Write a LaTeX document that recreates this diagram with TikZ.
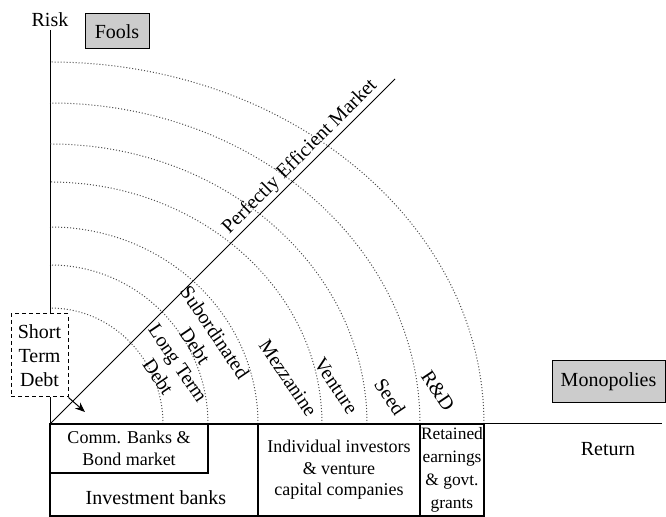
\documentclass[tikz,border=0pt]{standalone}
\usepackage{fontspec}
\setmainfont{Liberation Serif}
\usetikzlibrary{arrows.meta}

\begin{document}
\begin{tikzpicture}[
    x=0.5pt, y=0.5pt,
    every node/.style={font=\fontsize{10}{12}\selectfont},
    box/.style={draw, fill=black!20, inner sep=0pt, line width=0.5pt},
    cell/.style={draw, inner sep=0pt, align=center, line width=0.6pt, font=\fontsize{9}{10.75}\selectfont},
    band/.style={rotate=-56, align=center, inner sep=0pt},
    curve/.style={black!70, line width=0.5pt, dash pattern=on 0.5pt off 1pt},
    arr/.style={-{Stealth[length=5pt, width=4pt]}, line width=0.5pt}
]
    \useasboundingbox (-50,-93) rectangle (616,424);

    % axes and the efficient market line
    \coordinate (O) at (0,0);
    \coordinate (risk-end) at (0,394);
    \coordinate (ret-end) at (612,0);
    \coordinate (pem-end) at (345,345);
    \draw[line width=0.5pt] (risk-end) -- (O) -- (ret-end);
    \draw[line width=0.5pt] (O) -- (pem-end);

    % risk/return bands
    \foreach \rx/\ry in {113/116, 158/159, 208/197, 272/242, 317/280, 370/321, 434/362}
        \draw[curve] (\rx,0) arc[start angle=0, end angle=90, x radius=\rx, y radius=\ry];

    \node (risk) at (0,404) {Risk};
    \node (ret) at (558,-25) {Return};
    \node[box, minimum width=32pt, minimum height=17.5pt] (fools) at (67,392.5) {Fools};
    \node[box, minimum width=56.5pt, minimum height=21pt] (mono) at (558.5,42) {Monopolies};

    \node[draw, dash pattern=on 2pt off 1.5pt, line width=0.5pt, fill=white, align=center,
          minimum width=28.5pt, minimum height=41.5pt, inner sep=0pt] (std) at (-10.5,68.5) {Short\\Term\\Debt};
    \coordinate (std-tip) at (35,12);
    \draw[arr] (std.south east) -- (std-tip);

    \node[band] (ltd) at (118,54) {Long Term\\Debt};
    \node[band] (sub) at (155,85) {Subordinated\\Debt};
    \node[band] (mez) at (238,46) {Mezzanine};
    \node[band] (ven) at (286,38) {Venture};
    \node[band] (seed) at (340,27) {Seed};
    \node[band] (rd) at (388,33) {R\&D};
    \node[rotate=45, inner sep=0pt] (pem) at (250,267) {Perfectly Efficient Market};

    % sources of finance
    \node[cell, minimum width=104pt, minimum height=46pt] (ib) at (104,-46) {};
    \node[cell, minimum width=79pt, minimum height=24.5pt] (cb) at (79,-24.5) {Comm. Banks \&\\Bond market};
    \node (ib-text) at (106,-74) {Investment banks};
    \node[cell, minimum width=81pt, minimum height=46pt] (vc) at (289,-46) {Individual investors\\\& venture\\capital companies};
    \node[cell, minimum width=32pt, minimum height=46pt, font=\fontsize{8.7}{11.5}\selectfont] (re) at (402,-46) {Retained\\earnings\\\& govt.\\grants};
\end{tikzpicture}
\end{document}
